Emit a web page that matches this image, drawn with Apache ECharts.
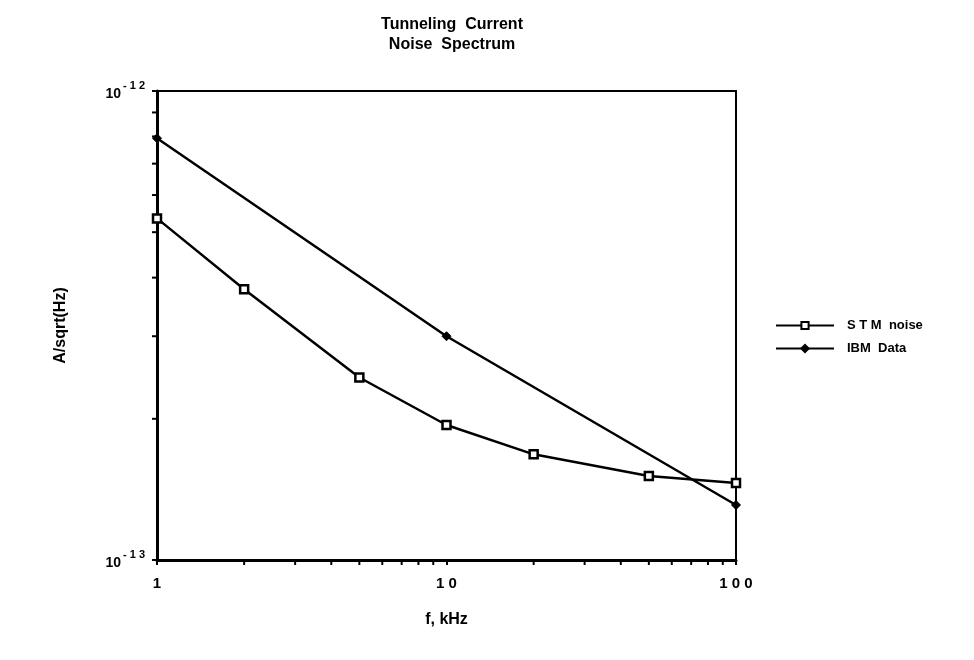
<!DOCTYPE html>
<html>
<head>
<meta charset="utf-8" />
<script src="https://cdn.jsdelivr.net/npm/echarts@6/dist/echarts.min.js"></script>
<style>
  html, body { margin: 0; padding: 0; background: #fff; }
  #main { width: 974px; height: 660px; }
</style>
</head>
<body>
<div id="main"></div>
<script type="text/javascript">
    // frequency points, kHz
    var freqStm = [1, 2, 5, 10, 20, 50, 100];
    var stmNoise = [5.35e-13, 3.78e-13, 2.45e-13, 1.94e-13, 1.68e-13, 1.51e-13, 1.46e-13];
    var freqIbm = [1, 10, 100];
    var ibmData = [7.93e-13, 3.0e-13, 1.31e-13];
    // log axis minor tick positions
    var xMinorTicks = [2, 3, 4, 5, 6, 7, 8, 9, 20, 30, 40, 50, 60, 70, 80, 90];
    var yMinorTicks = [2e-13, 3e-13, 4e-13, 5e-13, 6e-13, 7e-13, 8e-13, 9e-13];
    var xTickLabels = { 1: '1', 10: '1 0', 100: '1 0 0' };

    var font = 'Liberation Sans, Arial, sans-serif';

    function pairs(xs, ys) {
        return xs.map(function (x, i) { return [x, ys[i]]; });
    }

    var myChart = echarts.init(document.getElementById('main'));

    var option = {
        animation: false,
        backgroundColor: '#fff',
        title: {
            text: 'Tunneling  Current\nNoise  Spectrum',
            left: 447,
            textAlign: 'center',
            top: 10,
            textStyle: { fontFamily: font, fontWeight: 'bold', fontSize: 16, color: '#000', lineHeight: 20 }
        },
        legend: {
            orient: 'vertical',
            left: 770,
            top: 314,
            itemWidth: 58,
            itemHeight: 9,
            itemGap: 10,
            data: ['S T M  noise', 'IBM  Data'],
            textStyle: { fontFamily: font, fontWeight: 'bold', fontSize: 13, color: '#000', padding: [0, 0, 0, 8] }
        },
        grid: { left: 157, right: 238, top: 91, bottom: 100, show: true, borderColor: '#000', borderWidth: 2 },
        xAxis: {
            type: 'log',
            logBase: 10,
            min: 1,
            max: 100,
            name: 'f, kHz',
            nameLocation: 'middle',
            nameGap: 52,
            nameTextStyle: { fontFamily: font, fontWeight: 'bold', fontSize: 16, color: '#000' },
            axisLine: { lineStyle: { color: '#000', width: 3 } },
            axisTick: { show: true, length: 5, inside: false, lineStyle: { color: '#000', width: 2 } },
            splitLine: { show: false },
            axisLabel: {
                margin: 16,
                fontFamily: font, fontWeight: 'bold', fontSize: 15, color: '#000',
                formatter: function (v) { return xTickLabels[Math.round(v)] || ''; }
            }
        },
        yAxis: {
            type: 'log',
            logBase: 10,
            min: 1e-13,
            max: 1e-12,
            name: 'A/sqrt(Hz)',
            nameLocation: 'middle',
            nameGap: 88,
            nameTextStyle: { fontFamily: font, fontWeight: 'bold', fontSize: 16, color: '#000' },
            axisLine: { lineStyle: { color: '#000', width: 3 } },
            axisTick: { show: true, length: 5, lineStyle: { color: '#000', width: 2 } },
            splitLine: { show: false },
            axisLabel: {
                margin: 12,
                formatter: function (v) {
                    var e = Math.round(Math.log10(v));
                    return '{b|10}{s|- ' + String(-e).split('').join(' ') + '}';
                },
                rich: {
                    b: { fontFamily: font, fontWeight: 'bold', fontSize: 14, color: '#000', verticalAlign: 'bottom' },
                    s: { fontFamily: font, fontWeight: 'bold', fontSize: 11, color: '#000', verticalAlign: 'top', padding: [0, 0, 10, 2] }
                }
            }
        },
        series: [
            {
                name: 'S T M  noise',
                type: 'line',
                data: pairs(freqStm, stmNoise),
                symbol: 'rect',
                symbolSize: 8,
                lineStyle: { color: '#000', width: 2.5 },
                itemStyle: { color: '#fff', borderColor: '#000', borderWidth: 2.5 },
                z: 3
            },
            {
                name: 'IBM  Data',
                type: 'line',
                data: pairs(freqIbm, ibmData),
                symbol: 'diamond',
                symbolSize: 9,
                lineStyle: { color: '#000', width: 2.5 },
                itemStyle: { color: '#000', borderColor: '#000', borderWidth: 1 },
                z: 3
            },
            {
                name: 'xminor',
                type: 'custom',
                clip: false,
                silent: true,
                data: xMinorTicks.map(function (v) { return [v, 1e-13]; }),
                renderItem: function (params, api) {
                    var p = api.coord([api.value(0), api.value(1)]);
                    return { type: 'line', shape: { x1: p[0], y1: p[1], x2: p[0], y2: p[1] + 5 }, style: { stroke: '#000', lineWidth: 2 } };
                }
            },
            {
                name: 'yminor',
                type: 'custom',
                clip: false,
                silent: true,
                data: yMinorTicks.map(function (v) { return [1, v]; }),
                renderItem: function (params, api) {
                    var p = api.coord([api.value(0), api.value(1)]);
                    return { type: 'line', shape: { x1: p[0] - 5, y1: p[1], x2: p[0], y2: p[1] }, style: { stroke: '#000', lineWidth: 2 } };
                }
            }
        ]
    };
    myChart.setOption(option);
</script>
</body>
</html>
